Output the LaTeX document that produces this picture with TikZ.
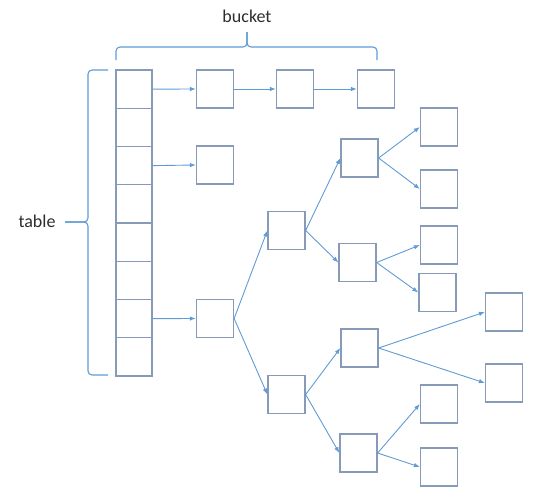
\documentclass[tikz,border=0pt]{standalone}
\usepackage{fontspec}
\setmainfont{Carlito}
\usetikzlibrary{arrows.meta, positioning}
\definecolor{boxgray}{RGB}{135, 155, 185}
\definecolor{linkblue}{RGB}{95, 155, 213}
\definecolor{labelgray}{RGB}{45, 45, 45}

\tikzset{
  cell/.style={draw=boxgray, line width=1.3pt, minimum width=37pt, minimum height=38pt, inner sep=0pt},
  link/.style={draw=linkblue, line width=0.9pt, -{Latex[length=6pt, width=4.5pt]}},
  brk/.style={draw=linkblue, line width=1.1pt, rounded corners=4pt}
}

\begin{document}
\begin{tikzpicture}[x=1pt, y=-1pt]
  \useasboundingbox (0,0) rectangle (537,498);

  % table
  \foreach \i in {1,...,8}
    \node[cell, minimum width=36pt, minimum height=38.25pt] (t\i) at (134, 50.875+38.25*\i) {};

  % bucket chain
  \node[cell] (b1) at (215, 89) {};
  \node[cell] (b2) at (295, 89) {};
  \node[cell] (b3) at (376, 89) {};
  \node[cell] (b4) at (215, 165) {};

  % tree
  \node[cell] (r)  at (215, 318.5) {};
  \node[cell] (c1) at (286.5, 230.5) {};
  \node[cell] (c2) at (286.5, 394.5) {};
  \node[cell] (g1) at (359.5, 158) {};
  \node[cell] (g2) at (357.5, 262.5) {};
  \node[cell] (g3) at (359.5, 348) {};
  \node[cell] (g4) at (358.5, 453) {};
  \node[cell] (l1) at (439, 127) {};
  \node[cell] (l2) at (439, 189) {};
  \node[cell] (l3) at (439, 245) {};
  \node[cell] (l4) at (437.5, 292.5) {};
  \node[cell] (l5) at (504, 312) {};
  \node[cell] (l6) at (504, 383) {};
  \node[cell] (l7) at (439, 404) {};
  \node[cell] (l8) at (439, 467) {};

  % links
  \draw[link] (t1.east) -- (b1.west);
  \draw[link] (b1.east) -- (b2.west);
  \draw[link] (b2.east) -- (b3.west);
  \draw[link] (t3.east) -- (b4.west);
  \draw[link] (t7.east) -- (r.west);
  \foreach \p/\c in {r/c1, r/c2, c1/g1, c1/g2, c2/g3, c2/g4,
                     g1/l1, g1/l2, g2/l3, g2/l4, g3/l5, g3/l6, g4/l7, g4/l8}
    \draw[link] (\p.east) -- (\c.west);

  % brackets
  \node[labelgray, font=\fontsize{18}{20}\selectfont] (bucket) at (247, 16) {bucket};
  \coordinate (bl) at (116, 60);
  \coordinate (br) at (377, 60);
  \coordinate (btip) at (247, 32);
  \draw[brk] (bl) -- (116, 47) -- (247, 47) -- (btip);
  \draw[brk] (br) -- (377, 47) -- (247, 47) -- (btip);

  \node[labelgray, font=\fontsize{18}{20}\selectfont] (table) at (37, 221) {table};
  \coordinate (tt) at (108, 70);
  \coordinate (tb) at (108, 375);
  \coordinate (ttip) at (65, 222);
  \draw[brk] (tt) -- (88, 70) -- (88, 222) -- (ttip);
  \draw[brk] (tb) -- (88, 375) -- (88, 222) -- (ttip);
\end{tikzpicture}
\end{document}
